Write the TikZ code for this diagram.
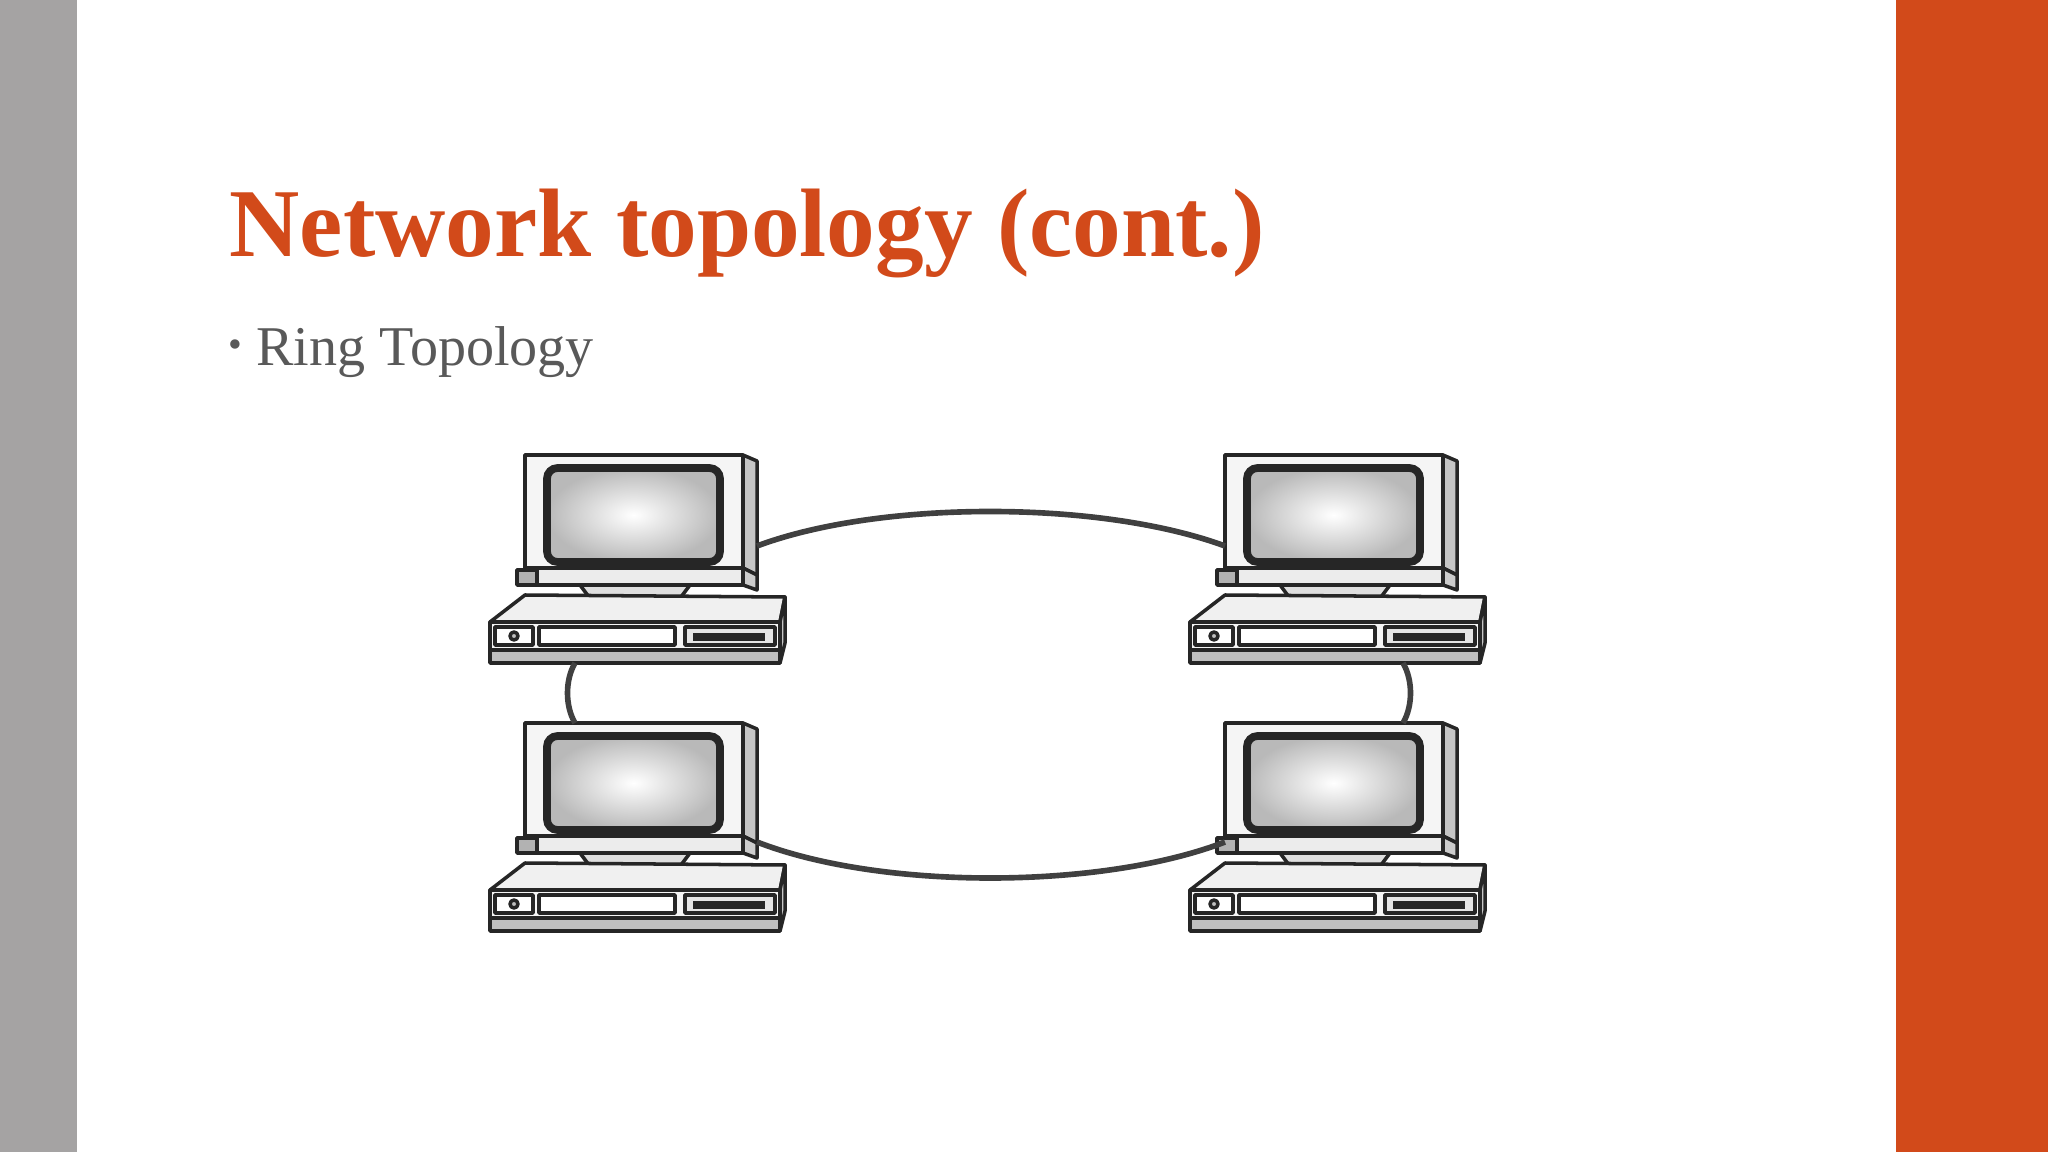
\documentclass[tikz,border=0pt]{standalone}
\usepackage{fontspec}
\setmainfont{Liberation Serif}
\definecolor{barorange}{HTML}{D24A1A}
\definecolor{bargray}{HTML}{A5A3A3}
\definecolor{txtgray}{HTML}{595959}
\tikzset{
  edge/.style={draw=black!75, line width=1.6pt},
  part/.style={draw=black!85, line width=1pt, line join=round},
  pics/computer/.style={code={
    % monitor
    \path[part, fill=gray!45] (218,0) -- (232,6) -- (232,120) -- (218,113) -- cycle;
    \path[part, fill=gray!8] (0,0) rectangle (218,113);
    \path[draw=black!85, line width=2.2pt, inner color=white, outer color=gray!55, rounded corners=3pt] (22,13) rectangle (195,107);
    \path[part, fill=gray!15] (0,113) rectangle (218,130);
    \path[part, fill=gray!60] (-8,115) rectangle (12,130);
    \path[part, fill=gray!40] (218,113) -- (232,120) -- (232,135) -- (218,130) -- cycle;
    % stand
    \path[part, fill=gray!25] (55,130) -- (165,130) -- (150,150) -- (70,150) -- cycle;
    % case
    \path[part, fill=gray!12] (-35,167) -- (0,140) -- (260,142) -- (255,167) -- cycle;
    \path[part, fill=gray!45] (255,167) -- (260,142) -- (260,188) -- (255,208) -- cycle;
    \path[part, fill=gray!8] (-35,167) rectangle (255,195);
    \path[part, fill=gray!50] (-35,195) rectangle (255,208);
    \path[part, fill=white] (-30,172) rectangle (8,190);
    \path[part, fill=gray!50] (-11,181) circle (4);
    \path[part, fill=white] (14,172) rectangle (150,190);
    \path[part, fill=gray!20] (160,172) rectangle (250,190);
    \path[draw=black!85, line width=2pt] (168,182) -- (240,182);
  }}
}
\begin{document}
\begin{tikzpicture}[x=0.01cm, y=-0.01cm]
\useasboundingbox (0,0) rectangle (2048,1152);
\fill[white] (0,0) rectangle (2048,1152);
\fill[bargray] (0,0) rectangle (77,1152);
\fill[barorange] (1896,0) rectangle (2048,1152);
\node[anchor=base west, inner sep=0, text=barorange] (title) at (229,257)
  {\resizebox{10.34cm}{!}{\bfseries Network topology (cont.)}};
\node[anchor=base west, inner sep=0, text=txtgray] (bullet) at (228,366)
  {\resizebox{3.65cm}{!}{{\scriptsize\raisebox{1.5pt}{\textbullet}}\hspace{2.5pt}Ring Topology}};
\pic at (525,455) {computer};
\pic at (1225,455) {computer};
\pic at (525,723) {computer};
\pic at (1225,723) {computer};
\coordinate (tlR) at (757,546);
\coordinate (trL) at (1225,546);
\coordinate (blR) at (757,842);
\coordinate (brL) at (1225,842);
\coordinate (tlB) at (575,663);
\coordinate (blT) at (575,723);
\coordinate (trB) at (1403,663);
\coordinate (brT) at (1403,723);
\draw[edge] (tlR) .. controls (880,500) and (1100,500) .. (trL);
\draw[edge] (blR) .. controls (880,890) and (1100,890) .. (brL);
\draw[edge] (tlB) .. controls (565,680) and (565,706) .. (blT);
\draw[edge] (trB) .. controls (1413,680) and (1413,706) .. (brT);
\end{tikzpicture}
\end{document}
